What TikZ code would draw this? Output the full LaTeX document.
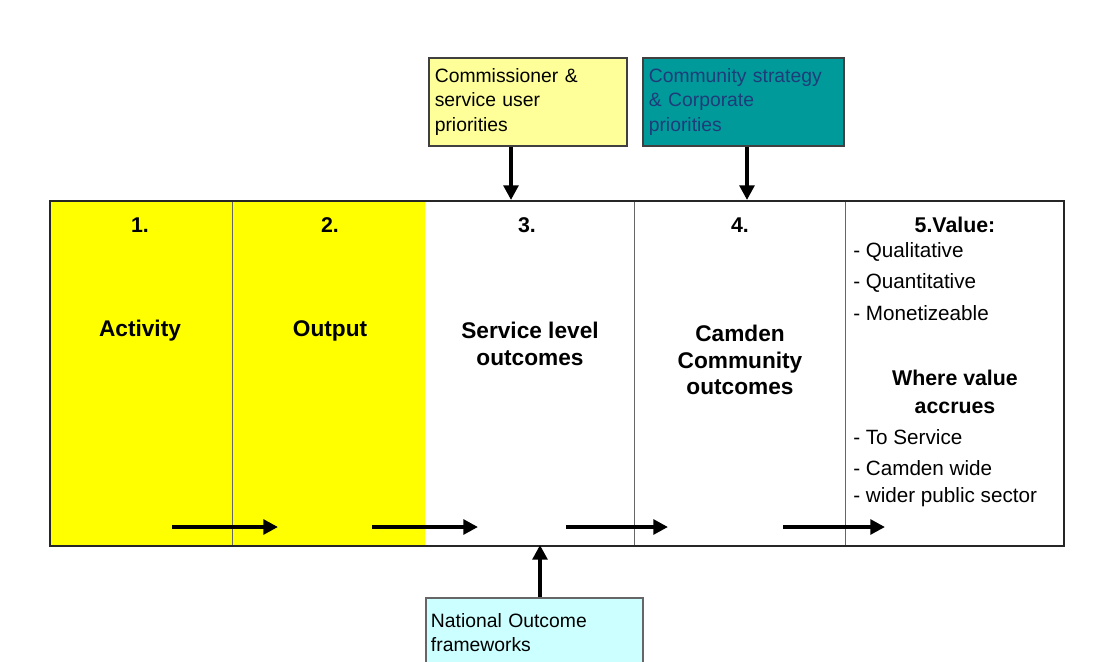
\documentclass[tikz,border=0pt]{standalone}
\usepackage{fontspec}
\setmainfont{Liberation Sans}
\usetikzlibrary{arrows.meta}
\definecolor{ylw}{HTML}{FFFF00}
\definecolor{paleylw}{HTML}{FFFF99}
\definecolor{teal1}{HTML}{009A9A}
\definecolor{tealtext}{HTML}{1F3C7A}
\definecolor{palecyan}{HTML}{CCFFFF}
\tikzset{
  inbox/.style={draw=black!75, line width=1.2pt, anchor=north west, inner sep=0pt,
     minimum width=#1, minimum height=66pt, align=left, text width=#1-9pt},
  lbl/.style={font=\bfseries\fontsize{17}{20}\selectfont, align=center, inner sep=0pt},
  num/.style={font=\bfseries\fontsize{16}{19}\selectfont, inner sep=0pt},
  item/.style={font=\fontsize{15.5}{18}\selectfont, anchor=west, inner sep=0pt},
  bigarrow/.style={line width=3pt, -{Triangle[length=11pt,width=11pt]}},
}
\begin{document}
\begin{tikzpicture}[x=0.75pt,y=-0.75pt]
\useasboundingbox (0,0) rectangle (1093,661);
% yellow columns
\fill[ylw] (49,200) rectangle (425,545);
% dividers
\draw[black!60, line width=0.6pt] (232,200) -- (232,545);
\draw[black!60, line width=0.6pt] (634,200) -- (634,545);
\draw[black!60, line width=0.6pt] (845,200) -- (845,545);
% outer frame
\node[draw=black!85, line width=1.4pt, anchor=north west, inner sep=0pt,
      minimum width=760.5pt, minimum height=258.75pt] (frame) at (49,200) {};
% top boxes
\node[inbox=148.5pt, fill=paleylw, font=\fontsize{14.5}{18.5}\selectfont] (comm) at (428,57)
  {Commissioner \&\\ service user\\ priorities};
\node[inbox=150.75pt, fill=teal1, text=tealtext, font=\fontsize{14.5}{18.5}\selectfont] (corp) at (642,57)
  {Community strategy\\ \& Corporate\\ priorities};
% bottom box
\node[draw=black!60, line width=1.2pt, fill=palecyan, anchor=north west, inner sep=0pt,
      minimum width=162.75pt, minimum height=60pt, text width=155pt, align=left,
      font=\fontsize{14.5}{18.5}\selectfont] (nat) at (425,597)
  {\raisebox{8pt}[0pt][0pt]{\parbox[t]{155pt}{National Outcome\\ frameworks}}};
% vertical arrows
\coordinate (t3) at (511,200);
\coordinate (t4) at (747,200);
\coordinate (b3) at (540,545);
\draw[bigarrow] (comm.south -| t3) -- (t3);
\draw[bigarrow] (corp.south -| t4) -- (t4);
\draw[bigarrow] (nat.north -| b3) -- (b3);
% column labels
\node[num] (n1) at (140,225) {1.};
\node[num] (n2) at (330,225) {2.};
\node[num] (n3) at (527,225) {3.};
\node[num] (n4) at (740,225) {4.};
\node[num] (n5) at (955,225) {5.Value:};
\node[lbl] (act) at (140,331) {Activity};
\node[lbl] (out) at (330,331) {Output};
\node[lbl] (svc) at (530,344) {Service level\\ outcomes};
\node[lbl] (cam) at (740,360) {Camden\\ Community\\ outcomes};
\node[item] (q1) at (853,252) {- Qualitative};
\node[item] (q2) at (853,283) {- Quantitative};
\node[item] (q3) at (853,313) {- Monetizeable};
\node[num, align=center, font=\bfseries\fontsize{16}{21}\selectfont] (wva) at (955,392) {Where value\\ accrues};
\node[item] (w1) at (853,437) {- To Service};
\node[item] (w2) at (853,468) {- Camden wide};
\node[item] (w3) at (853,497) {- wider public sector};
% horizontal arrows
\coordinate (h1s) at (172,527); \coordinate (h1e) at (278,527);
\coordinate (h2s) at (372,527); \coordinate (h2e) at (478,527);
\coordinate (h3s) at (566,527); \coordinate (h3e) at (668,527);
\coordinate (h4s) at (783,527); \coordinate (h4e) at (885,527);
\draw[bigarrow] (h1s) -- (h1e);
\draw[bigarrow] (h2s) -- (h2e);
\draw[bigarrow] (h3s) -- (h3e);
\draw[bigarrow] (h4s) -- (h4e);
\end{tikzpicture}
\end{document}
